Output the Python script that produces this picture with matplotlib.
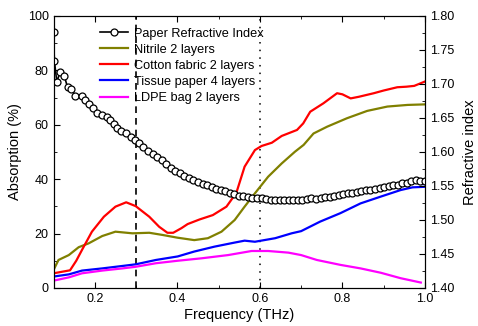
import matplotlib
matplotlib.use("Agg")
import matplotlib.pyplot as plt
import numpy as np
from matplotlib.ticker import MultipleLocator

plt.rcParams['font.family'] = ['Liberation Sans', 'DejaVu Sans']

# absorption spectra (%)
nitrile_f = [0.100, 0.112, 0.137, 0.161, 0.185, 0.218, 0.250, 0.291, 0.332, 0.364, 0.400,
             0.441, 0.474, 0.507, 0.539, 0.563, 0.588, 0.620, 0.653, 0.685, 0.706, 0.730,
             0.763, 0.811, 0.860, 0.909, 0.958, 1.000]
nitrile_a = [6.6, 10.3, 12.1, 15.0, 16.4, 19.1, 20.7, 20.1, 20.3, 19.5, 18.5,
             17.6, 18.3, 20.7, 25.0, 29.9, 34.8, 40.9, 45.8, 50.1, 52.6, 56.8,
             59.3, 62.4, 65.1, 66.7, 67.3, 67.5]

cotton_f = [0.100, 0.140, 0.155, 0.169, 0.193, 0.222, 0.250, 0.276, 0.299, 0.332, 0.356,
            0.376, 0.390, 0.410, 0.425, 0.454, 0.486, 0.519, 0.543, 0.563, 0.588, 0.604,
            0.629, 0.653, 0.690, 0.705, 0.722, 0.754, 0.787, 0.800, 0.820, 0.840, 0.876,
            0.900, 0.933, 0.955, 0.974, 1.000]
cotton_a = [5.4, 6.5, 10.0, 14.0, 20.7, 26.2, 29.9, 31.5, 30.1, 26.2, 22.5,
            20.3, 20.3, 22.0, 23.5, 25.2, 26.8, 29.9, 35.0, 44.6, 50.7, 52.2,
            53.4, 55.9, 58.1, 60.5, 64.8, 67.9, 71.6, 71.2, 69.7, 70.3, 71.6,
            72.6, 73.8, 74.0, 74.3, 75.9]

tissue_f = [0.100, 0.137, 0.169, 0.218, 0.267, 0.299, 0.348, 0.401, 0.441, 0.490, 0.539,
            0.563, 0.588, 0.637, 0.677, 0.700, 0.746, 0.795, 0.844, 0.893, 0.941, 0.970, 1.000]
tissue_a = [4.2, 5.0, 6.4, 7.2, 8.1, 8.7, 10.3, 11.6, 13.4, 15.2, 16.7,
            17.4, 17.0, 18.3, 20.1, 20.9, 24.4, 27.5, 31.1, 33.6, 36.0, 37.0, 37.2]

ldpe_f = [0.100, 0.137, 0.169, 0.218, 0.267, 0.299, 0.348, 0.400, 0.458, 0.523, 0.580,
          0.620, 0.669, 0.700, 0.738, 0.795, 0.844, 0.893, 0.941, 0.990]
ldpe_a = [2.7, 3.9, 5.4, 6.4, 7.2, 7.8, 9.1, 10.0, 10.9, 12.1, 13.6,
          13.6, 13.0, 12.1, 10.3, 8.5, 7.2, 5.6, 3.6, 2.0]

# paper refractive index
paper_f = np.concatenate([
    [0.100, 0.102, 0.108, 0.116, 0.126, 0.134, 0.143, 0.153, 0.168, 0.177, 0.185,
     0.196, 0.206, 0.218, 0.230, 0.238, 0.246, 0.254, 0.264, 0.275, 0.287, 0.297,
     0.307, 0.318, 0.329, 0.340, 0.351],
    np.linspace(0.362, 1.0, 59)])
paper_n = [1.777, 1.734, 1.703, 1.718, 1.712, 1.695, 1.692, 1.683, 1.683, 1.676, 1.670,
           1.664, 1.657, 1.654, 1.651, 1.647, 1.641, 1.635, 1.631, 1.628, 1.622, 1.618,
           1.613, 1.608, 1.602, 1.597, 1.592,
           1.588, 1.582, 1.577, 1.572, 1.569, 1.565, 1.562, 1.559, 1.556, 1.553,
           1.551, 1.548, 1.546, 1.544, 1.542, 1.540, 1.538, 1.536, 1.535, 1.534,
           1.533, 1.532, 1.532, 1.531, 1.530, 1.530, 1.529, 1.529, 1.529, 1.529,
           1.529, 1.530, 1.531, 1.532, 1.531, 1.533, 1.534, 1.534, 1.536, 1.537,
           1.538, 1.539, 1.540, 1.541, 1.542, 1.544, 1.544, 1.546, 1.547, 1.549,
           1.550, 1.551, 1.552, 1.554, 1.555, 1.557, 1.559, 1.557, 1.558]

fig = plt.figure(figsize=(4.78, 3.26), dpi=100)
ax = fig.add_axes([0.112, 0.1166, 0.777, 0.8344])
ax2 = ax.twinx()

ax.axvline(0.3, color='black', ls=(0, (4, 3)), lw=1.2)
ax.axvline(0.6, color='black', ls=(0, (1, 4)), lw=1.1)

p0, = ax2.plot(paper_f, paper_n, color='black', lw=1.2, marker='o', ms=5,
               mfc='white', mec='black', mew=0.9, label='Paper Refractive Index')
l1, = ax.plot(nitrile_f, nitrile_a, color='#808000', lw=1.6, label='Nitrile 2 layers')
l2, = ax.plot(cotton_f, cotton_a, color='#ff0000', lw=1.6, label='Cotton fabric 2 layers')
l3, = ax.plot(tissue_f, tissue_a, color='#0000ff', lw=1.6, label='Tissue paper 4 layers')
l4, = ax.plot(ldpe_f, ldpe_a, color='#ff00ff', lw=1.6, label='LDPE bag 2 layers')

ax.set_xlim(0.1, 1.0)
ax.set_ylim(0, 100)
ax2.set_ylim(1.40, 1.80)

ax.xaxis.set_major_locator(MultipleLocator(0.2))
ax.xaxis.set_minor_locator(MultipleLocator(0.1))
ax.yaxis.set_major_locator(MultipleLocator(20))
ax.yaxis.set_minor_locator(MultipleLocator(10))
ax2.yaxis.set_major_locator(MultipleLocator(0.05))
ax2.yaxis.set_minor_locator(MultipleLocator(0.025))

ax.tick_params(which='both', direction='in', top=True, labelsize=9)
ax.tick_params(which='major', length=4)
ax.tick_params(which='minor', length=2)
ax2.tick_params(which='both', direction='in', labelsize=9)
ax2.tick_params(which='major', length=4)
ax2.tick_params(which='minor', length=2)
ax.xaxis.set_major_formatter(plt.FuncFormatter(lambda v, p: f"{v:.1f}"))
ax2.yaxis.set_major_formatter(plt.FuncFormatter(lambda v, p: f"{v:.2f}"))

ax.set_xlabel('Frequency (THz)', fontsize=10.5, labelpad=2)
ax.set_ylabel('Absorption (%)', fontsize=10.5, labelpad=4)
ax2.set_ylabel('Refractive index', fontsize=10.5, labelpad=6)

ax2.legend(handles=[p0, l1, l2, l3, l4], loc='upper left', bbox_to_anchor=(0.1, 0.99),
           frameon=False, fontsize=9.2, handlelength=2.2, handletextpad=0.5,
           labelspacing=0.32, borderaxespad=0.3)

fig.savefig('out.png', dpi=100)
